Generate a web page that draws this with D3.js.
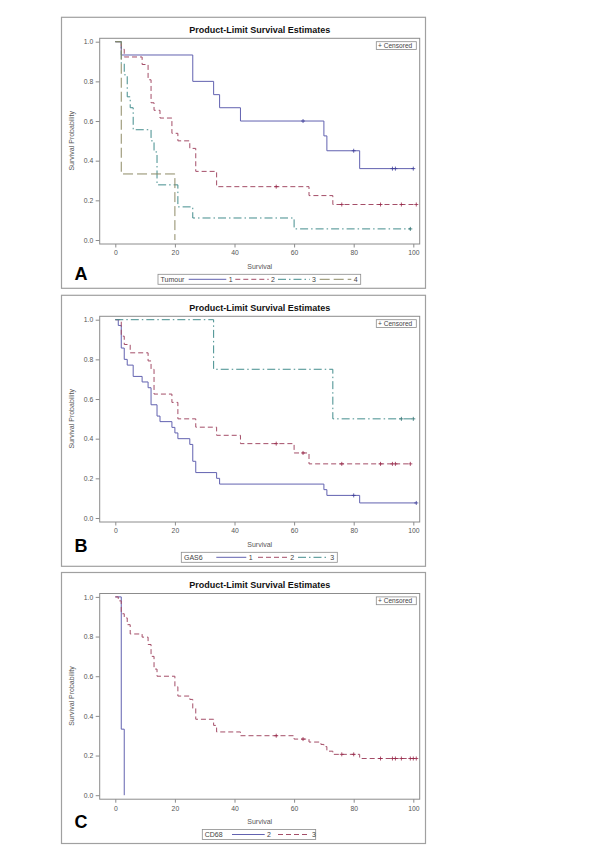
<!DOCTYPE html>
<html><head><meta charset="utf-8">
<script src="https://cdn.jsdelivr.net/npm/d3@7"></script>
<style>body{margin:0;background:#fff}</style>
</head><body>
<script>
// ---------------- DATA ----------------
const chartTitle = "Product-Limit Survival Estimates";
const xLabel = "Survival";
const yLabel = "Survival Probability";
const xTicks = [0, 20, 40, 60, 80, 100];
const yTicks = [0, 0.2, 0.4, 0.6, 0.8, 1.0];

// Panel A – Tumour
const tumourGroups = ["1", "2", "3", "4"];
const tum1Times = [0, 2, 26, 33, 35, 42, 70, 71, 82];
const tum1Surv  = [1, 0.933, 0.8, 0.733, 0.667, 0.6, 0.525, 0.45, 0.36];
const tum1End = 100, tum1Cens = [63, 80, 93, 94, 100];
const tum2Times = [0, 2, 3, 9, 11, 12, 13, 15, 19, 21, 25, 27, 34, 65, 73];
const tum2Surv  = [1, 0.962, 0.923, 0.885, 0.808, 0.692, 0.654, 0.615, 0.538, 0.5, 0.462, 0.346, 0.269, 0.224, 0.179];
const tum2End = 101, tum2Cens = [54, 76, 89, 96, 101];
const tum3Times = [0, 2, 3, 4, 5, 6, 12, 13, 14, 21, 26, 60];
const tum3Surv  = [1, 0.889, 0.833, 0.722, 0.667, 0.556, 0.5, 0.444, 0.278, 0.167, 0.111, 0.056];
const tum3End = 99, tum3Cens = [99];
const tum4Times = [0, 2, 20];
const tum4Surv  = [1, 0.333, 0];
const tum4End = 20, tum4Cens = [];

// Panel B – GAS6
const gasGroups = ["1", "2", "3"];
const gas1Times = [0, 1, 2, 3, 4, 6, 9, 11, 12, 14, 15, 19, 20, 21, 25, 26, 27, 34, 35, 70, 71, 82];
const gas1Surv  = [1, 0.971, 0.857, 0.8, 0.771, 0.714, 0.686, 0.657, 0.571, 0.514, 0.486, 0.457, 0.429, 0.4, 0.371, 0.286, 0.229, 0.2, 0.171, 0.143, 0.114, 0.076];
const gas1End = 101, gas1Cens = [80, 101];
const gas2Times = [0, 2, 3, 5, 11, 12, 13, 19, 21, 27, 34, 42, 60, 65];
const gas2Surv  = [1, 0.917, 0.875, 0.833, 0.792, 0.75, 0.625, 0.583, 0.5, 0.458, 0.417, 0.375, 0.328, 0.273];
const gas2End = 99, gas2Cens = [54, 63, 76, 89, 93, 94, 99];
const gas3Times = [0, 33, 73];
const gas3Surv  = [1, 0.75, 0.5];
const gas3End = 100, gas3Cens = [96, 100];

// Panel C – CD68
const cdGroups = ["2", "3"];
const cd2Times = [0, 2, 3];
const cd2Surv  = [1, 0.333, 0];
const cd2End = 3, cd2Cens = [];
const cd3Times = [0, 1, 2, 3, 4, 5, 9, 11, 12, 13, 14, 20, 21, 25, 26, 27, 33, 34, 42, 60, 65, 69, 70, 71, 73, 82];
const cd3Surv  = [1, 0.98, 0.915, 0.894, 0.86, 0.813, 0.797, 0.76, 0.70, 0.636, 0.6, 0.547, 0.5, 0.483, 0.438, 0.383, 0.352, 0.319, 0.3, 0.283, 0.268, 0.256, 0.245, 0.222, 0.206, 0.185];
const cd3End = 101, cd3Cens = [54, 63, 76, 80, 89, 93, 94, 96, 99, 100, 101];

// ---------------- STYLE ----------------
const styleSolid  = {color: "#6262b0", mark: "#3c3c98", dash: null};
const styleDash   = {color: "#a44e68", mark: "#98284a", dash: "5,3"};
const styleDashDot= {color: "#438d8d", mark: "#2a6f6f", dash: "8,3,1.5,3"};
const styleLong   = {color: "#8e8a66", mark: "#6e6a4a", dash: "10,4"};
const FONT = "'Liberation Sans', Arial, Helvetica, sans-serif";

const panels = [
  { top: 17.3, letter: "A", letterBase: 280, legendTitle: "Tumour",
    box: [158, 360.7], titleX: 160.5,
    series: [
      {name: tumourGroups[0], t: tum1Times, s: tum1Surv, end: tum1End, cens: tum1Cens, st: styleSolid},
      {name: tumourGroups[1], t: tum2Times, s: tum2Surv, end: tum2End, cens: tum2Cens, st: styleDash},
      {name: tumourGroups[2], t: tum3Times, s: tum3Surv, end: tum3End, cens: tum3Cens, st: styleDashDot},
      {name: tumourGroups[3], t: tum4Times, s: tum4Surv, end: tum4End, cens: tum4Cens, st: styleLong}],
    leg: [[188.7, 226.3], [235.3, 268.7], [278, 309.7], [319.7, 351.3]] },
  { top: 295.3, letter: "B", letterBase: 551.7, legendTitle: "GAS6",
    box: [181.3, 337.3], titleX: 184,
    series: [
      {name: gasGroups[0], t: gas1Times, s: gas1Surv, end: gas1End, cens: gas1Cens, st: styleSolid},
      {name: gasGroups[1], t: gas2Times, s: gas2Surv, end: gas2End, cens: gas2Cens, st: styleDash},
      {name: gasGroups[2], t: gas3Times, s: gas3Surv, end: gas3End, cens: gas3Cens, st: styleDashDot}],
    leg: [[216.3, 246.3], [258, 288], [298, 328]] },
  { top: 572.5, letter: "C", letterBase: 828.3, legendTitle: "CD68",
    box: [202.3, 315.7], titleX: 204.7,
    series: [
      {name: cdGroups[0], t: cd2Times, s: cd2Surv, end: cd2End, cens: cd2Cens, st: styleSolid},
      {name: cdGroups[1], t: cd3Times, s: cd3Surv, end: cd3End, cens: cd3Cens, st: styleDash}],
    leg: [[232, 264.7], [278, 309.7]] }
];

// ---------------- DRAW ----------------
const svg = d3.select("body").append("svg").attr("width", 600).attr("height", 867);
svg.append("rect").attr("width", 600).attr("height", 867).attr("fill", "#fff");

const x = d3.scaleLinear().domain([0, 100]).range([115.3, 413.3]);

panels.forEach(p => {
  const T = p.top;
  const g = svg.append("g");
  const y = d3.scaleLinear().domain([0, 1]).range([T + 222.7, T + 24.4]);

  // outer box
  g.append("rect").attr("x", 61.5).attr("y", T).attr("width", 364).attr("height", 271)
    .attr("fill", "none").attr("stroke", "#a0a0a0").attr("stroke-width", 1.2);

  // title
  g.append("text").attr("x", 259.7).attr("y", T + 15.6).attr("text-anchor", "middle")
    .attr("font-family", FONT).attr("font-weight", "bold").attr("font-size", 9).attr("fill", "#111")
    .text(chartTitle);

  // plot frame
  g.append("rect").attr("x", 99.7).attr("y", T + 21).attr("width", 320).attr("height", 205.7)
    .attr("fill", "none").attr("stroke", "#8c8c8c").attr("stroke-width", 1);

  // axes
  const yAxis = d3.axisLeft(y).tickValues(yTicks).tickFormat(d3.format(".1f")).tickSize(4).tickPadding(2.5);
  const ya = g.append("g").attr("transform", "translate(99.7,0)").call(yAxis);
  const xAxis = d3.axisBottom(x).tickValues(xTicks).tickFormat(d3.format("d")).tickSize(3.5).tickPadding(3);
  const xa = g.append("g").attr("transform", `translate(0,${T + 226.7})`).call(xAxis);
  [ya, xa].forEach(a => {
    a.select(".domain").remove();
    a.selectAll("line").attr("stroke", "#8c8c8c");
    a.selectAll("text").attr("font-family", FONT).attr("font-size", 6.8).attr("fill", "#555");
  });

  // axis labels
  g.append("text").attr("x", 259.7).attr("y", T + 251.8).attr("text-anchor", "middle")
    .attr("font-family", FONT).attr("font-size", 7).attr("fill", "#555").text(xLabel);
  const ym = (y(0) + y(1)) / 2;
  g.append("text").attr("transform", `translate(73.5,${ym}) rotate(-90)`).attr("text-anchor", "middle")
    .attr("font-family", FONT).attr("font-size", 7).attr("fill", "#555").text(yLabel);

  // censored legend
  g.append("rect").attr("x", 376.3).attr("y", T + 24.4).attr("width", 40).attr("height", 7.8)
    .attr("fill", "#fff").attr("stroke", "#8c8c8c").attr("stroke-width", 0.8);
  g.append("text").attr("x", 378).attr("y", T + 30.7)
    .attr("font-family", FONT).attr("font-size", 6.6).attr("fill", "#444").text("+ Censored");

  // curves
  const line = d3.line().x(d => x(d[0])).y(d => y(d[1])).curve(d3.curveStepAfter);
  p.series.forEach(se => {
    const pts = se.t.map((ti, i) => [ti, se.s[i]]);
    pts.push([se.end, se.s[se.s.length - 1]]);
    g.append("path").attr("d", line(pts)).attr("fill", "none")
      .attr("stroke", se.st.color).attr("stroke-width", 1)
      .attr("stroke-dasharray", se.st.dash);
    se.cens.forEach(c => {
      let v = se.s[0];
      se.t.forEach((ti, i) => { if (ti <= c) v = se.s[i]; });
      const cx = x(c), cy = y(v);
      g.append("path").attr("d", `M${cx - 2},${cy}H${cx + 2}M${cx},${cy - 2}V${cy + 2}`)
        .attr("stroke", se.st.mark).attr("stroke-width", 0.8).attr("fill", "none");
    });
  });

  // panel letter
  g.append("text").attr("x", 74.5).attr("y", p.letterBase)
    .attr("font-family", FONT).attr("font-weight", "bold").attr("font-size", 18).attr("fill", "#000")
    .text(p.letter);

  // group legend
  const ly = T + 262;
  g.append("rect").attr("x", p.box[0]).attr("y", T + 257).attr("width", p.box[1] - p.box[0]).attr("height", 10)
    .attr("fill", "#fff").attr("stroke", "#8c8c8c").attr("stroke-width", 0.8);
  g.append("text").attr("x", p.titleX).attr("y", ly + 2.5)
    .attr("font-family", FONT).attr("font-size", 7).attr("fill", "#444").text(p.legendTitle);
  p.series.forEach((se, i) => {
    const [a, b] = p.leg[i];
    g.append("line").attr("x1", a).attr("x2", b).attr("y1", ly).attr("y2", ly)
      .attr("stroke", se.st.color).attr("stroke-width", 1).attr("stroke-dasharray", se.st.dash);
    g.append("text").attr("x", b + 4.3).attr("y", ly + 2.5).attr("text-anchor", "middle")
      .attr("font-family", FONT).attr("font-size", 7).attr("fill", "#444").text(se.name);
  });
});
</script>
</body></html>
